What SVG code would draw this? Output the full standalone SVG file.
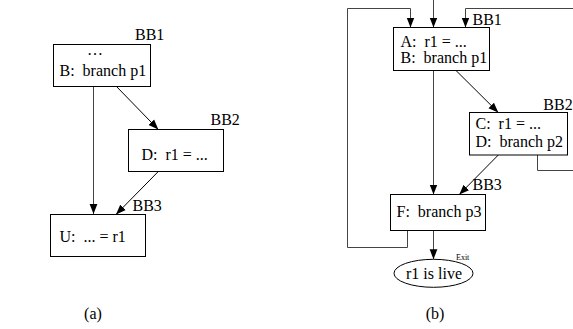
<svg xmlns="http://www.w3.org/2000/svg" width="573" height="329" viewBox="0 0 573 329" xml:space="preserve">
<style>
text{font-family:"Liberation Serif","Times New Roman",serif;font-size:16px;fill:#000;white-space:pre}
.box{fill:#fff;stroke:#000;stroke-width:1}
.edge{fill:none;stroke:#000;stroke-width:1}
.ortho{stroke:#444}
.small{font-size:8px}
</style>
<defs>
<marker id="ah" markerUnits="userSpaceOnUse" markerWidth="10" markerHeight="10" viewBox="0 0 9 7" refX="9" refY="3.5" orient="auto">
<path d="M0,0 L9,3.5 L0,7 Z" fill="#000"/>
</marker>
</defs>
<g id="connectors">
<line class="edge ortho" x1="93.5" y1="86" x2="93.5" y2="214" marker-end="url(#ah)"/>
<line class="edge" x1="116" y1="86" x2="158.3" y2="129.5" marker-end="url(#ah)"/>
<line class="edge" x1="158.3" y1="171.5" x2="116" y2="214.5" marker-end="url(#ah)"/>
<line class="edge ortho" x1="433.5" y1="0" x2="433.5" y2="27.5" marker-end="url(#ah)"/>
<path class="edge ortho" d="M407.5,230.5 V247.5 H347.5 V8.5 H410.5 V27.5" marker-end="url(#ah)"/>
<path class="edge ortho" d="M537.5,155 V170.5 H585 V8.5 H465.5 V27.5" marker-end="url(#ah)"/>
<line class="edge ortho" x1="433.5" y1="70.5" x2="433.5" y2="194.5" marker-end="url(#ah)"/>
<line class="edge" x1="456" y1="70.5" x2="498.3" y2="112.5" marker-end="url(#ah)"/>
<line class="edge" x1="498.3" y1="155" x2="459.3" y2="194.5" marker-end="url(#ah)"/>
<line class="edge ortho" x1="433.5" y1="230.5" x2="433.5" y2="259.3" marker-end="url(#ah)"/>
</g>
<g id="a_bb1">
<rect class="box" x="53.5" y="44.5" width="97" height="42"/>
<text x="95" y="55" text-anchor="middle">…</text>
<text x="59.5" y="76">B:  branch p1</text>
<text x="135" y="40">BB1</text>
</g>
<g id="a_bb2">
<rect class="box" x="128.5" y="129.5" width="95" height="42"/>
<text x="141.5" y="160">D:  r1 = ...</text>
<text x="210.5" y="125">BB2</text>
</g>
<g id="a_bb3">
<rect class="box" x="50.5" y="214.5" width="95" height="42"/>
<text x="59.5" y="241.5">U:  ... = r1</text>
<text x="132.5" y="210.5">BB3</text>
</g>
<g id="b_bb1">
<rect class="box" x="393.5" y="27.5" width="96" height="43"/>
<text x="400.5" y="46.5">A:  r1 = ...</text>
<text x="400.5" y="63.3">B:  branch p1</text>
<text x="472.5" y="25">BB1</text>
</g>
<g id="b_bb2">
<rect class="box" x="469.5" y="112.5" width="98" height="42.5"/>
<text x="475.5" y="129.3">C:  r1 = ...</text>
<text x="475.5" y="146.5">D:  branch p2</text>
<text x="543.3" y="110">BB2</text>
</g>
<g id="b_bb3">
<rect class="box" x="390.5" y="194.5" width="95" height="36"/>
<text x="396.5" y="216.7">F:  branch p3</text>
<text x="472.5" y="190">BB3</text>
</g>
<g id="b_exit">
<ellipse class="box" cx="433.5" cy="273.3" rx="39.5" ry="14"/>
<text x="434" y="279.3" text-anchor="middle">r1 is live</text>
<text class="small" x="456" y="260">Exit</text>
</g>
<g id="captions">
<text x="93" y="319" text-anchor="middle">(a)</text>
<text x="435" y="319" text-anchor="middle">(b)</text>
</g>
</svg>
